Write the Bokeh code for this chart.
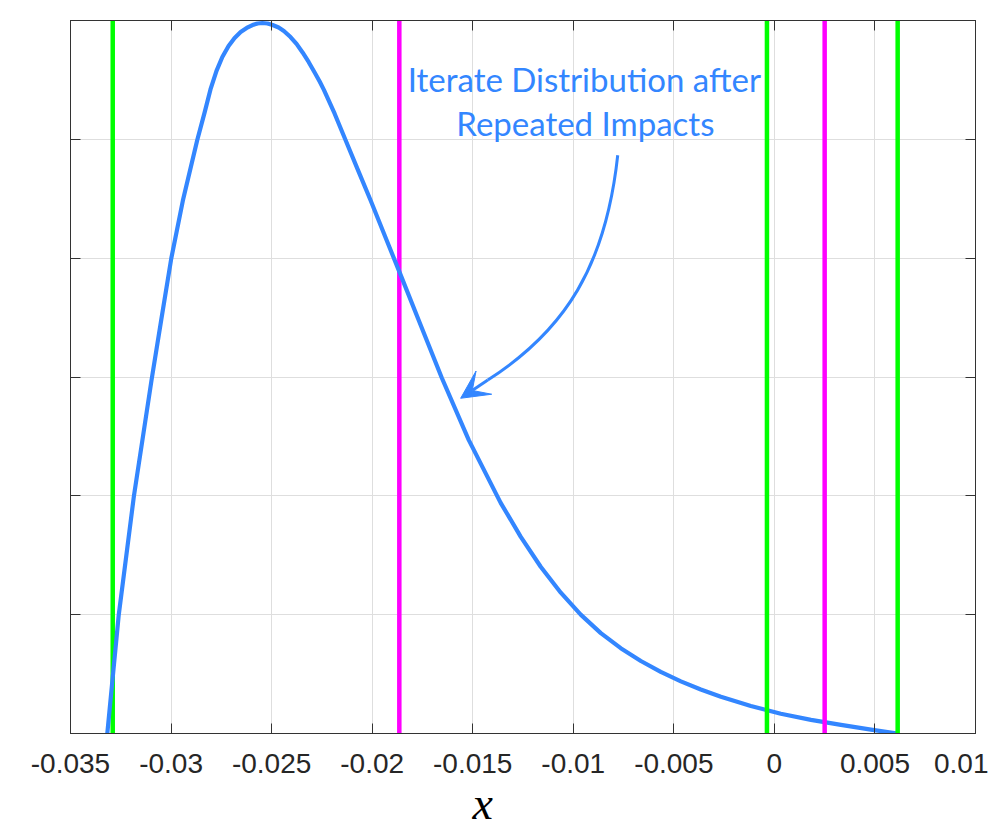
from bokeh.plotting import figure
from bokeh.models import (Range1d, FixedTicker, LinearAxis, Title, Arrow, VeeHead,
                          ColumnDataSource)
from bokeh.core.properties import value
from bokeh.embed import file_html
from bokeh.resources import INLINE

# ---------------- data ----------------
x_ticks = [-0.035, -0.03, -0.025, -0.02, -0.015, -0.01, -0.005, 0.0, 0.005, 0.01]
x_tick_labels = ["-0.035", "-0.03", "-0.025", "-0.02", "-0.015", "-0.01",
                 "-0.005", "0", "0.005", "0.01"]
y_ticks = [0, 1, 2, 3, 4, 5, 6]

curve_x = [-0.03317, -0.03260, -0.03185, -0.03097, -0.03049, -0.02999, -0.02941,
           -0.02870, -0.02833, -0.02804, -0.02774, -0.02745, -0.02714, -0.02684,
           -0.02654, -0.02624, -0.02595, -0.02570, -0.02546,
           -0.02520, -0.02495, -0.02465, -0.02439, -0.02406, -0.02376, -0.02346,
           -0.02316, -0.02286, -0.02261, -0.02240, -0.02187, -0.02132, -0.02070,
           -0.02008, -0.01928, -0.01858, -0.01769, -0.01654, -0.01520,
           -0.01361, -0.01261, -0.01162, -0.01062, -0.00963, -0.00863, -0.00764,
           -0.00664, -0.00565, -0.00465, -0.00366, -0.00266, -0.00117,
           0.00032, 0.00182, 0.00331, 0.00480, 0.00613]
curve_y = [0.000, 1.000, 1.994, 2.975, 3.479, 3.997, 4.487,
           4.992, 5.227, 5.420, 5.576, 5.693, 5.786, 5.853,
           5.903, 5.937, 5.962, 5.975, 5.979,
           5.975, 5.962, 5.941, 5.912, 5.861, 5.803, 5.731,
           5.651, 5.563, 5.487, 5.416, 5.218, 4.992, 4.739,
           4.487, 4.151, 3.857, 3.479, 2.994, 2.471,
           1.941, 1.655, 1.403, 1.185, 1.000, 0.845, 0.718,
           0.610, 0.518, 0.439, 0.370, 0.309, 0.231,
           0.166, 0.115, 0.072, 0.032, 0.000]

green_x = [-0.0329, -0.00037, 0.00613]
magenta_x = [-0.01865, 0.0025]

note_lines = ["Iterate Distribution after", "Repeated Impacts"]
note_x = [-0.00945, -0.00940]
note_y = [5.504, 5.134]

# annotation arrow path (bezier) and head
arrow_path = dict(x0=[-0.00779], y0=[4.866], cx0=[-0.00838], cy0=[3.941],
                  cx1=[-0.01037], cy1=[3.395], x1=[-0.01425], y1=[2.975])
arrow_tip = (-0.01560, 2.821)

x_label = "x"

BLUE = "#3386FF"
GREEN = "#00FF00"
MAGENTA = "#FF00FF"
AXIS = "#333333"
GRID = "#DEDEDE"

# ---------------- figure ----------------
p = figure(width=988, height=828,
           x_range=Range1d(-0.035, 0.01), y_range=Range1d(0, 6),
           output_backend="svg", toolbar_location=None,
           min_border_left=70, min_border_right=13,
           min_border_top=20, min_border_bottom=94)
p.background_fill_color = "white"
p.border_fill_color = "white"
p.outline_line_color = AXIS
p.outline_line_width = 1

xt = FixedTicker(ticks=x_ticks)
yt = FixedTicker(ticks=y_ticks)

# bottom axis
xa = p.xaxis[0]
xa.ticker = xt
xa.major_label_overrides = {t: l for t, l in zip(x_ticks, x_tick_labels)}
xa.major_tick_in = 10
xa.major_tick_out = 0
xa.minor_tick_line_color = None
xa.axis_line_color = AXIS
xa.major_tick_line_color = AXIS
xa.major_label_text_font = "Liberation Sans"
xa.major_label_text_font_size = "28px"
xa.major_label_text_color = "#262626"
xa.major_label_standoff = 20

# left axis
ya = p.yaxis[0]
ya.ticker = yt
ya.major_tick_in = 10
ya.major_tick_out = 0
ya.minor_tick_line_color = None
ya.axis_line_color = AXIS
ya.major_tick_line_color = AXIS
ya.major_label_text_font_size = "0px"
ya.major_label_standoff = 0

# top and right axes (box with inward ticks, no labels)
top = LinearAxis(ticker=xt, major_tick_in=10, major_tick_out=0,
                 minor_tick_line_color=None, axis_line_color=AXIS,
                 major_tick_line_color=AXIS, major_label_text_font_size="0px",
                 major_label_standoff=0)
right = LinearAxis(ticker=yt, major_tick_in=10, major_tick_out=0,
                   minor_tick_line_color=None, axis_line_color=AXIS,
                   major_tick_line_color=AXIS, major_label_text_font_size="0px",
                   major_label_standoff=0)
p.add_layout(top, "above")
p.add_layout(right, "right")

p.xgrid.ticker = xt
p.ygrid.ticker = yt
p.xgrid.grid_line_color = GRID
p.ygrid.grid_line_color = GRID
p.xgrid.grid_line_width = 1
p.ygrid.grid_line_width = 1

LW = 4.5
# lines drawn under the curve
p.segment(x0=green_x[:1], y0=[0], x1=green_x[:1], y1=[6], line_color=GREEN, line_width=LW)
p.segment(x0=magenta_x[:1], y0=[0], x1=magenta_x[:1], y1=[6], line_color=MAGENTA, line_width=LW)

# distribution curve
p.line(curve_x, curve_y, line_color=BLUE, line_width=4.2, line_join="round")

# lines drawn over the curve
p.segment(x0=green_x[1:], y0=[0, 0], x1=green_x[1:], y1=[6, 6], line_color=GREEN, line_width=LW)
p.segment(x0=magenta_x[1:], y0=[0], x1=magenta_x[1:], y1=[6], line_color=MAGENTA, line_width=LW)

# annotation text
p.text(x=note_x, y=note_y, text=note_lines, text_color=BLUE,
       text_font=value("Lato"), text_font_size="33px",
       text_align="center", text_baseline="middle")

# annotation arrow
p.bezier(line_color=BLUE, line_width=3, source=ColumnDataSource(arrow_path))
p.add_layout(Arrow(end=VeeHead(size=28, fill_color=BLUE, line_color=BLUE, line_width=1),
                   x_start=arrow_path["x1"][0], y_start=arrow_path["y1"][0],
                   x_end=arrow_tip[0], y_end=arrow_tip[1],
                   line_color=BLUE, line_width=3))

# x axis label (italic serif), placed in the panel under the axis
p.add_layout(Title(text=x_label, align="left", offset=402, standoff=0,
                   vertical_align="bottom", text_font="Liberation Serif",
                   text_font_style="italic", text_font_size="46px",
                   text_color="#000000"), "below")

open("out.html", "w").write(file_html(p, INLINE))
